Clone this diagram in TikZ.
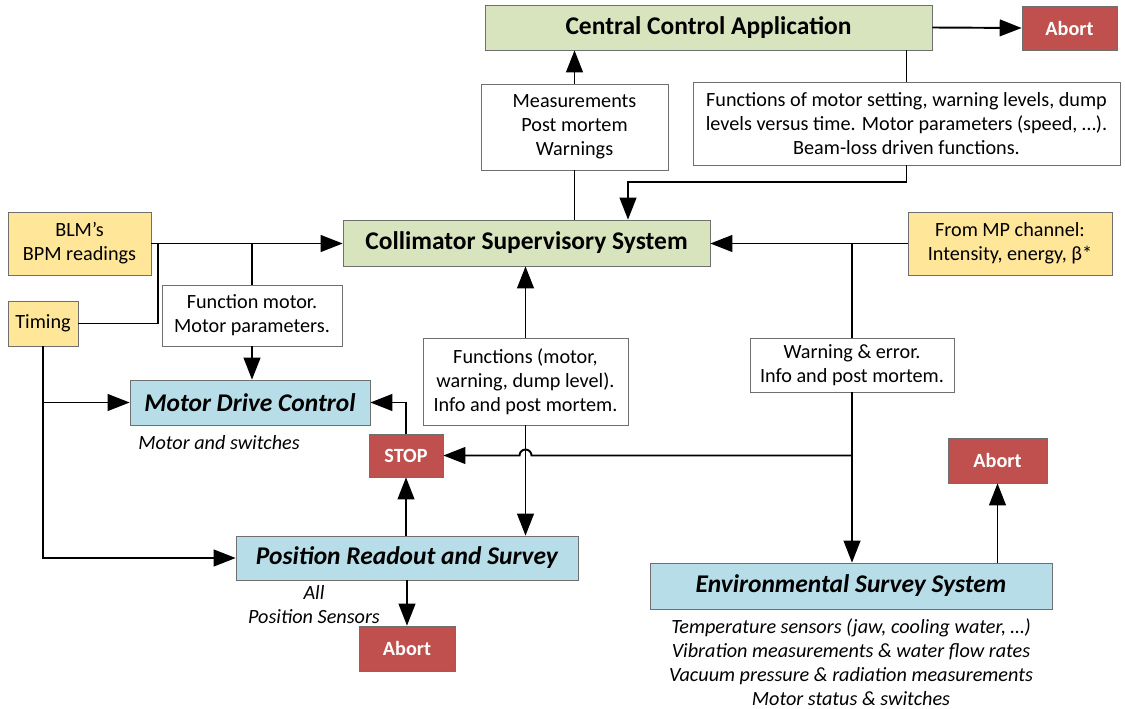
\documentclass[tikz,border=0pt]{standalone}
\usepackage{fontspec}
\setmainfont{Carlito}
\usetikzlibrary{arrows.meta,calc}
\definecolor{cgreen}{HTML}{D7E4BD}
\definecolor{cblue}{HTML}{B7DEE8}
\definecolor{cyellow}{HTML}{FFE699}
\definecolor{cred}{HTML}{C0504D}
\definecolor{cedge}{HTML}{6F6F6F}

\begin{document}
\begin{tikzpicture}[x=0.02cm, y=-0.02cm,
    every node/.style={font=\fontsize{11.5}{13.6}\selectfont, align=center, inner sep=2pt},
    box/.style={draw=cedge, rectangle},
    infobox/.style={box, fill=white},
    srcbox/.style={box, fill=cyellow},
    ctrlbox/.style={box, fill=cgreen, font=\fontsize{14.5}{17}\selectfont\bfseries},
    unitbox/.style={box, fill=cblue, font=\fontsize{14.5}{17}\selectfont\bfseries\itshape},
    redbox/.style={box, fill=cred, text=white, font=\fontsize{11.5}{13.6}\selectfont\bfseries},
    note/.style={font=\fontsize{11.5}{13.6}\selectfont\itshape},
    link/.style={line width=1.1pt},
    arr/.style={link, -{Triangle[length=12.5pt,width=9.5pt]}}]
  \useasboundingbox (0,0) rectangle (1125,709);
  % control level
  \node[ctrlbox, minimum width=8.94cm, minimum height=0.9cm] (cca) at (708.5,27.5) {Central Control Application};
  \node[redbox, minimum width=1.9cm, minimum height=0.88cm] (aborttop) at (1069.5,28) {Abort};
  \node[infobox, minimum width=3.74cm, minimum height=1.72cm] (meas) at (574.5,127)
    {Measurements\\Post mortem\\Warnings};
  \node[infobox, minimum width=8.54cm, minimum height=1.66cm] (funcs) at (906.5,123.5)
    {Functions of motor setting, warning levels, dump\\levels versus time. Motor parameters (speed, \dots).\\Beam-loss driven functions.};
  \node[ctrlbox, minimum width=7.34cm, minimum height=0.92cm] (css) at (526.5,243) {Collimator Supervisory System};
  % inputs
  \node[srcbox, minimum width=2.86cm, minimum height=1.26cm] (blm) at (79.5,243.5) {BLM’s\\BPM readings};
  \node[srcbox, minimum width=1.4cm, minimum height=0.9cm] (timing) at (43,323.5) {Timing};
  \node[srcbox, minimum width=4.08cm, minimum height=1.26cm] (mp) at (1010,243.5)
    {From MP channel:\\Intensity, energy, β*};
  % messages
  \node[infobox, minimum width=3.6cm, minimum height=1.22cm] (fmotor) at (252,315.5)
    {Function motor.\\Motor parameters.};
  \node[infobox, minimum width=4.1cm, minimum height=1.74cm] (fwarn) at (525.5,381.5)
    {Functions (motor,\\warning, dump level).\\Info and post mortem.};
  \node[infobox, minimum width=4.08cm, minimum height=1.08cm] (werr) at (852,365)
    {Warning \& error.\\Info and post mortem.};
  % units
  \node[unitbox, minimum width=4.8cm, minimum height=0.9cm] (mdc) at (250,402.5) {Motor Drive Control};
  \node[note] (mdcnote) at (219,443) {Motor and switches};
  \node[redbox, minimum width=1.48cm, minimum height=0.86cm] (stop) at (406,455.5) {STOP};
  \node[unitbox, minimum width=6.84cm, minimum height=0.88cm] (prs) at (407,558) {Position Readout and Survey};
  \node[note] (prsnote) at (314,605) {All\\Position Sensors};
  \node[redbox, minimum width=1.92cm, minimum height=0.9cm] (abortleft) at (407,648.5) {Abort};
  \node[unitbox, minimum width=8.04cm, minimum height=0.92cm] (ess) at (851,586) {Environmental Survey System};
  \node[note] (essnote) at (851,662) {Temperature sensors (jaw, cooling water, \dots)\\Vibration measurements \& water flow rates\\Vacuum pressure \& radiation measurements\\Motor status \& switches};
  \node[redbox, minimum width=1.98cm, minimum height=0.9cm] (abortright) at (997.5,460.5) {Abort};

  % connectors at the top
  \draw[arr] (cca.east) -- (aborttop.west);
  \draw[arr] (meas.north) -- (meas.north |- cca.south);
  \draw[link] (meas.south) -- (meas.south |- css.north);
  \draw[link] (funcs.north |- cca.south) -- (funcs.north);
  \draw[arr] (funcs.south) -- ++(0,17) -| ($(css.north)+(101.5,0)$);
  % inputs
  \draw[arr] (blm.east) -- (blm.east -| css.west);
  \draw[link] (timing.east) -| ($(blm.east)+(7,0)$);
  \draw[link] (fmotor.north) -- (fmotor.north |- blm.east);
  \draw[arr] (fmotor.south) -- (fmotor.south |- mdc.north);
  \draw[arr] (timing.south) |- (prs.west);
  \draw[arr] (timing.south |- mdc.west) -- (mdc.west);
  \draw[arr] (mp.west) -- (mp.west -| css.east);
  % supervisory system down to the units
  \draw[arr] (fwarn.north) -- (fwarn.north |- css.south);
  \draw[arr] (fwarn.south) -- (fwarn.south |- prs.north);
  \draw[link] (werr.north) -- (werr.north |- mp.west);
  \draw[arr] (werr.south) -- (werr.south |- ess.north);
  \draw[arr] (werr.south |- stop.east) -- ($(fwarn.south |- stop.east)+(6,0)$)
    arc[start angle=0, end angle=180, radius=3.4pt] -- (stop.east);
  \draw[arr] (stop.north) |- (mdc.east);
  \draw[arr] (stop.south |- prs.north) -- (stop.south);
  \draw[arr] (prs.south) -- (abortleft.north);
  \draw[arr] (abortright.south |- ess.north) -- (abortright.south);
\end{tikzpicture}
\end{document}
